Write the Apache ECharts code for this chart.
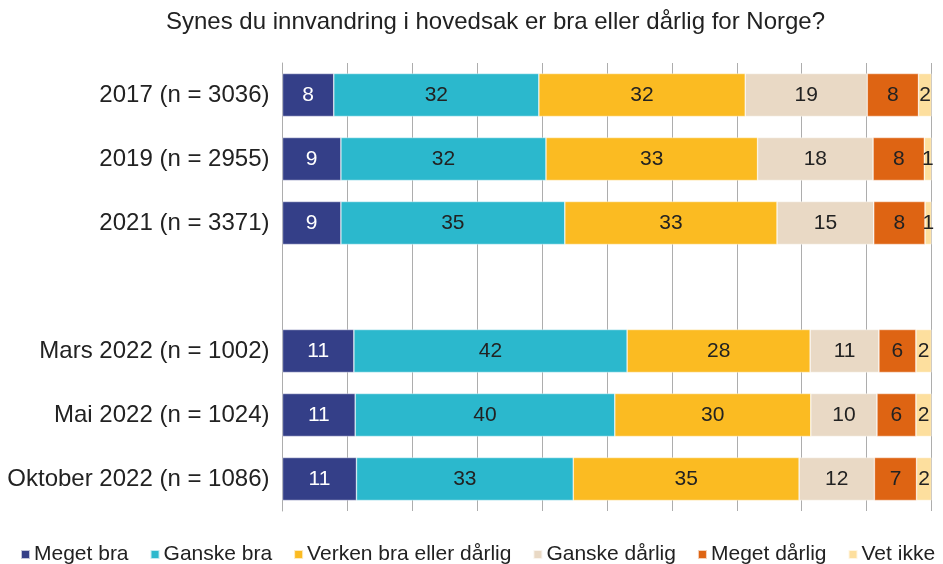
<!DOCTYPE html>
<html>
<head>
<meta charset="utf-8">
<script src="https://cdn.jsdelivr.net/npm/echarts@6/dist/echarts.min.js"></script>
<style>
  html, body { margin: 0; padding: 0; background: #fff; }
  #chart { width: 943px; height: 564px; }
</style>
</head>
<body>
<div id="chart"></div>
<script>
// kategorier (tom rad mellom 2021 og 2022-målingene)
var categories = ['2017 (n = 3036)', '2019 (n = 2955)', '2021 (n = 3371)', '',
    'Mars 2022 (n = 1002)', 'Mai 2022 (n = 1024)', 'Oktober 2022 (n = 1086)'];

// prosent per svaralternativ, lest av figuren
var megetBra      = [7.9, 9.0, 9.0, '-', 11.0, 11.2, 11.4];
var ganskeBra     = [31.6, 31.6, 34.5, '-', 42.1, 40.0, 33.4];
var verken        = [31.8, 32.6, 32.7, '-', 28.2, 30.2, 34.8];
var ganskeDarlig  = [18.8, 17.8, 14.9, '-', 10.6, 10.2, 11.6];
var megetDarlig   = [7.9, 7.9, 7.9, '-', 5.7, 6.0, 6.5];
var vetIkke       = [2.0, 1.1, 1.0, '-', 2.4, 2.4, 2.3];

var seriesNames = ['Meget bra', 'Ganske bra', 'Verken bra eller dårlig', 'Ganske dårlig', 'Meget dårlig', 'Vet ikke'];
var seriesData = [megetBra, ganskeBra, verken, ganskeDarlig, megetDarlig, vetIkke];
var colors = ['#343f88', '#2bb8cd', '#fbbb22', '#e9d9c5', '#de6413', '#fddf9e'];
var labelColors = ['#fff', '#222', '#222', '#222', '#222', '#222'];

var font = '"Liberation Sans", Arial, sans-serif';

var chart = echarts.init(document.getElementById('chart'));

chart.setOption({
    animation: false,
    color: colors,
    title: {
        text: 'Synes du innvandring i hovedsak er bra eller dårlig for Norge?',
        left: 161,
        top: 5,
        textStyle: { fontFamily: font, fontSize: 24, fontWeight: 'normal', color: '#222' }
    },
    legend: {
        data: seriesNames,
        left: 15,
        top: 539,
        itemWidth: 9,
        itemHeight: 9,
        itemGap: 21,
        icon: 'rect',
        textStyle: { fontFamily: font, fontSize: 21, color: '#222', padding: [0, 0, 0, -1] }
    },
    grid: { left: 282.5, right: 11.5, top: 63, height: 448, containLabel: false },
    xAxis: {
        type: 'value',
        min: 0,
        max: 100,
        interval: 10,
        axisLabel: { show: false },
        axisLine: { show: false },
        splitLine: { show: true, lineStyle: { color: '#adadad', width: 1 } }
    },
    yAxis: {
        type: 'category',
        data: categories,
        inverse: true,
        axisTick: { show: false },
        axisLine: { show: true, lineStyle: { color: '#adadad' } },
        axisLabel: { margin: 13, fontFamily: font, fontSize: 24, color: '#222' }
    },
    series: seriesData.map(function (d, i) {
        return {
            name: seriesNames[i],
            type: 'bar',
            stack: 'total',
            barWidth: 43,
            data: d,
            itemStyle: { borderColor: 'rgba(255,255,255,0.7)', borderWidth: 0.6 },
            label: {
                show: true,
                position: 'inside',
                fontFamily: font,
                fontSize: 21,
                color: labelColors[i],
                formatter: function (p) { return Math.round(p.value); }
            }
        };
    })
});
</script>
</body>
</html>
